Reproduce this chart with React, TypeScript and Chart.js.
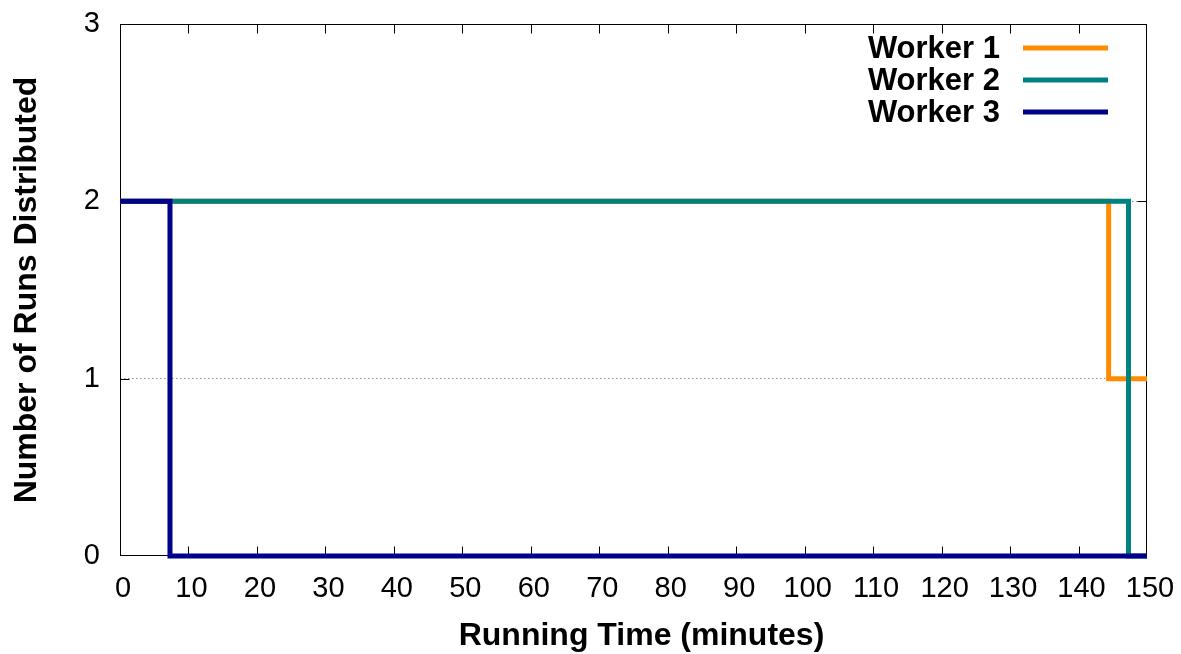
import React, { useEffect, useRef } from 'react';
import { Chart, registerables } from 'chart.js';

Chart.register(...registerables);

const FONT = '"Liberation Sans", Arial, Helvetica, sans-serif';

const seriesLabels = ['Worker 1', 'Worker 2', 'Worker 3'];
const seriesColors = ['#ff8c00', '#008080', '#00008b'];

const worker1X = [0, 144.4, 150];
const worker1Y = [2, 1, 1];
const worker2X = [0, 147.3, 150];
const worker2Y = [2, 0, 0];
const worker3X = [0, 7.3, 150];
const worker3Y = [2, 0, 0];

const xTicks = [0, 10, 20, 30, 40, 50, 60, 70, 80, 90, 100, 110, 120, 130, 140, 150];
const yTicks = [0, 1, 2, 3];

const xTitle = 'Running Time (minutes)';
const yTitle = 'Number of Runs Distributed';

const toPoints = (xs: number[], ys: number[]) => xs.map((x, i) => ({ x, y: ys[i] }));

const zeroPadding = (s: any) => {
  s.paddingLeft = 0;
  s.paddingRight = 0;
  s.paddingTop = 0;
  s.paddingBottom = 0;
};

const framePlugin = {
  id: 'gnuplotFrame',
  beforeDatasetsDraw(chart: any) {
    const { ctx, chartArea } = chart;
    const { left, right, top, bottom } = chartArea;
    const xs = chart.scales.x;
    const ys = chart.scales.y;
    ctx.save();
    ctx.strokeStyle = '#000';
    ctx.lineWidth = 1;
    const L = Math.round(left) + 0.5;
    const R = Math.round(right) - 0.5;
    const T = Math.round(top) + 0.5;
    const B = Math.round(bottom) - 0.5;
    ctx.strokeRect(L, T, R - L, B - T);
    const tl = 9;
    ctx.beginPath();
    xTicks.forEach((v) => {
      if (v === xTicks[0] || v === xTicks[xTicks.length - 1]) return;
      const px = Math.round(xs.getPixelForValue(v)) + 0.5;
      ctx.moveTo(px, B);
      ctx.lineTo(px, B - tl);
      ctx.moveTo(px, T);
      ctx.lineTo(px, T + tl);
    });
    yTicks.forEach((v) => {
      if (v === yTicks[0] || v === yTicks[yTicks.length - 1]) return;
      const py = Math.round(ys.getPixelForValue(v)) + 0.5;
      ctx.moveTo(L, py);
      ctx.lineTo(L + tl, py);
      ctx.moveTo(R, py);
      ctx.lineTo(R - tl, py);
    });
    ctx.stroke();
    ctx.restore();
  },
  afterDraw(chart: any) {
    const { ctx, chartArea } = chart;
    ctx.save();
    // legend
    ctx.font = `bold 31px ${FONT}`;
    ctx.textAlign = 'right';
    ctx.textBaseline = 'middle';
    chart.data.datasets.forEach((ds: any, i: number) => {
      const y = 48 + i * 32;
      ctx.fillStyle = '#000';
      ctx.fillText(ds.label, 1000, y + 1);
      ctx.strokeStyle = ds.borderColor;
      ctx.lineWidth = 5;
      ctx.lineCap = 'butt';
      ctx.beginPath();
      ctx.moveTo(1023, y);
      ctx.lineTo(1108, y);
      ctx.stroke();
    });
    // axis titles
    ctx.fillStyle = '#000';
    ctx.font = `bold 32px ${FONT}`;
    ctx.textAlign = 'center';
    ctx.textBaseline = 'middle';
    ctx.fillText(xTitle, (chartArea.left + chartArea.right) / 2 + 8, 636);
    ctx.translate(27, (chartArea.top + chartArea.bottom) / 2);
    ctx.rotate(-Math.PI / 2);
    ctx.fillText(yTitle, 0, 0);
    ctx.restore();
  },
};

export default function App() {
  const canvasRef = useRef<HTMLCanvasElement | null>(null);

  useEffect(() => {
    document.body.style.margin = '0';
    const canvas = canvasRef.current;
    if (!canvas) return;
    const data = [
      toPoints(worker1X, worker1Y),
      toPoints(worker2X, worker2Y),
      toPoints(worker3X, worker3Y),
    ];
    const chart = new Chart(canvas, {
      type: 'line',
      data: {
        datasets: seriesLabels.map((label, i) => ({
          label,
          data: data[i],
          borderColor: seriesColors[i],
          backgroundColor: seriesColors[i],
          borderWidth: 5,
          pointRadius: 0,
          stepped: true,
          fill: false,
          clip: 10,
          order: seriesLabels.length - i,
          borderCapStyle: 'butt',
          borderJoinStyle: 'miter',
        })),
      },
      options: {
        animation: false,
        responsive: false,
        layout: { padding: { left: 0, right: 34, top: 24, bottom: 0 } },
        plugins: {
          legend: { display: false },
          tooltip: { enabled: false },
        },
        scales: {
          x: {
            type: 'linear',
            min: 0,
            max: 150,
            afterBuildTicks: (s: any) => {
              s.ticks = xTicks.map((v) => ({ value: v }));
            },
            afterFit: (s: any) => {
              s.height = 98;
              zeroPadding(s);
            },
            ticks: {
              font: { family: FONT, size: 29 },
              color: '#000',
              padding: 16,
              labelOffset: 3,
              maxRotation: 0,
              autoSkip: false,
            },
            grid: { display: false, drawTicks: false },
            border: { display: false },
          },
          y: {
            type: 'linear',
            min: 0,
            max: 3,
            afterBuildTicks: (s: any) => {
              s.ticks = yTicks.map((v) => ({ value: v }));
            },
            afterFit: (s: any) => {
              s.width = 120;
              zeroPadding(s);
            },
            ticks: {
              font: { family: FONT, size: 29 },
              color: '#000',
              padding: 20,
            },
            grid: {
              drawTicks: false,
              lineWidth: 1,
              color: (c: any) =>
                c.tick && (c.tick.value === 1 || c.tick.value === 2) ? '#8a8a8a' : 'rgba(0,0,0,0)',
            },
            border: { display: false, dash: [1.5, 2.5] },
          },
        },
      },
      plugins: [framePlugin],
    } as any);
    return () => chart.destroy();
  }, []);

  return (
    <div style={{ position: 'absolute', left: 0, top: 0, width: 1181, height: 654, background: '#fff' }}>
      <canvas ref={canvasRef} width={1181} height={654} style={{ width: 1181, height: 654, display: 'block' }} />
    </div>
  );
}
